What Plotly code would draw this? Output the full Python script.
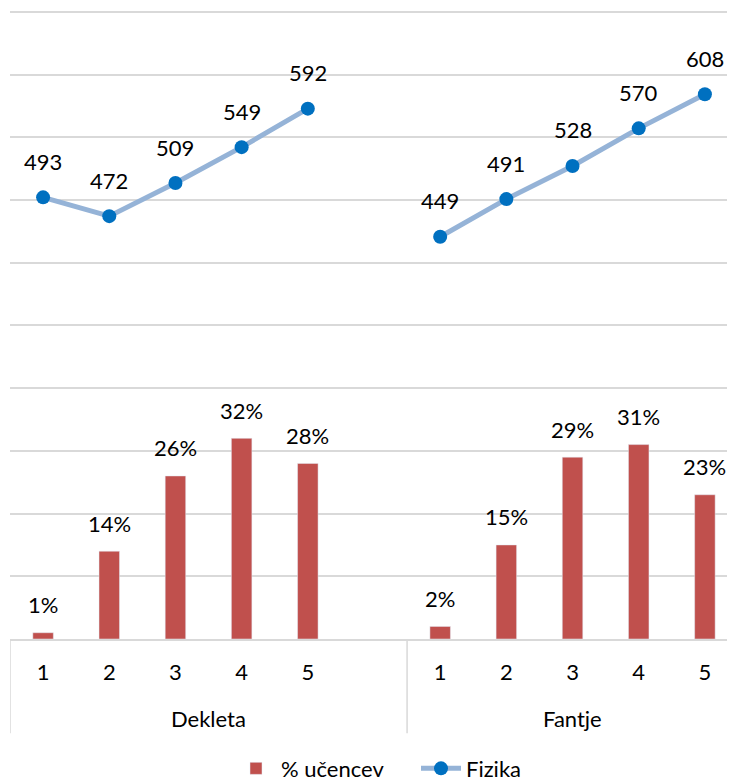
import plotly.graph_objects as go

# ---- data ----
groups = ["Dekleta", "Fantje"]
tick_labels = ["1", "2", "3", "4", "5", "", "1", "2", "3", "4", "5"]
pct_ucencev = [1, 14, 26, 32, 28, None, 2, 15, 29, 31, 23]
fizika = [493, 472, 509, 549, 592, None, 449, 491, 528, 570, 608]

x = list(range(len(tick_labels)))
FONT = "Lato"
FS = 22
GRID = "#D9D9D9"

fig = go.Figure()
fig.add_trace(go.Bar(
    x=x, y=pct_ucencev, name="% učencev", marker_color="#C0504D",
    width=0.31, yaxis="y", hoverinfo="skip",
))
fig.add_trace(go.Scatter(
    x=x, y=fizika, name="Fizika", mode="lines+markers", yaxis="y2",
    line=dict(color="#95B3D7", width=5),
    marker=dict(color="#0070C0", size=14),
    connectgaps=False, hoverinfo="skip",
))

ann = []
for xi, v in zip(x, pct_ucencev):
    if v is None:
        continue
    ann.append(dict(x=xi, y=v, xref="x", yref="y", text=f"{v}%", showarrow=False,
                    yanchor="middle", yshift=28, font=dict(family=FONT, size=FS, color="#000")))
for xi, v in zip(x, fizika):
    if v is None:
        continue
    ann.append(dict(x=xi, y=v, xref="x", yref="y2", text=f"{v}", showarrow=False,
                    yanchor="middle", yshift=36, font=dict(family=FONT, size=FS, color="#000")))
# group labels
for name, cx in zip(groups, [2.5, 8.0]):
    ann.append(dict(x=cx, y=-0.1256, xref="x", yref="paper", text=name, showarrow=False,
                    yanchor="middle", font=dict(family=FONT, size=FS, color="#000")))

shapes = []
for dx in [-0.5, 5.5]:
    shapes.append(dict(type="line", xref="x", yref="paper", x0=dx, x1=dx, y0=0, y1=-0.15,
                       line=dict(color=GRID, width=1.5)))

fig.update_layout(
    width=727, height=775,
    margin=dict(l=2, r=0, t=2, b=144, autoexpand=False),
    paper_bgcolor="white", plot_bgcolor="white",
    font=dict(family=FONT, size=FS, color="#000"),
    showlegend=True,
    legend=dict(orientation="h", x=0.56, xanchor="center", y=-0.206, yanchor="middle",
                font=dict(family=FONT, size=FS, color="#000"), itemwidth=40,
                entrywidth=130, entrywidthmode="pixels"),
    xaxis=dict(range=[-0.5, 10.455], tickmode="array", tickvals=x, ticktext=tick_labels,
               showgrid=False, zeroline=False, showline=True, linecolor=GRID, linewidth=1.5,
               ticks="", ticklabelstandoff=13, tickfont=dict(family=FONT, size=FS, color="#000"),
               fixedrange=True),
    yaxis=dict(range=[0, 100.3], dtick=10, tick0=0, showgrid=True, gridcolor=GRID, gridwidth=1.5,
               zeroline=False, showticklabels=False, ticks=""),
    yaxis2=dict(range=[0, 702.1], overlaying="y", side="right", showgrid=False, zeroline=False,
                showticklabels=False, ticks="", visible=False),
    annotations=ann,
    shapes=shapes,
)

fig.write_html("out.html")
